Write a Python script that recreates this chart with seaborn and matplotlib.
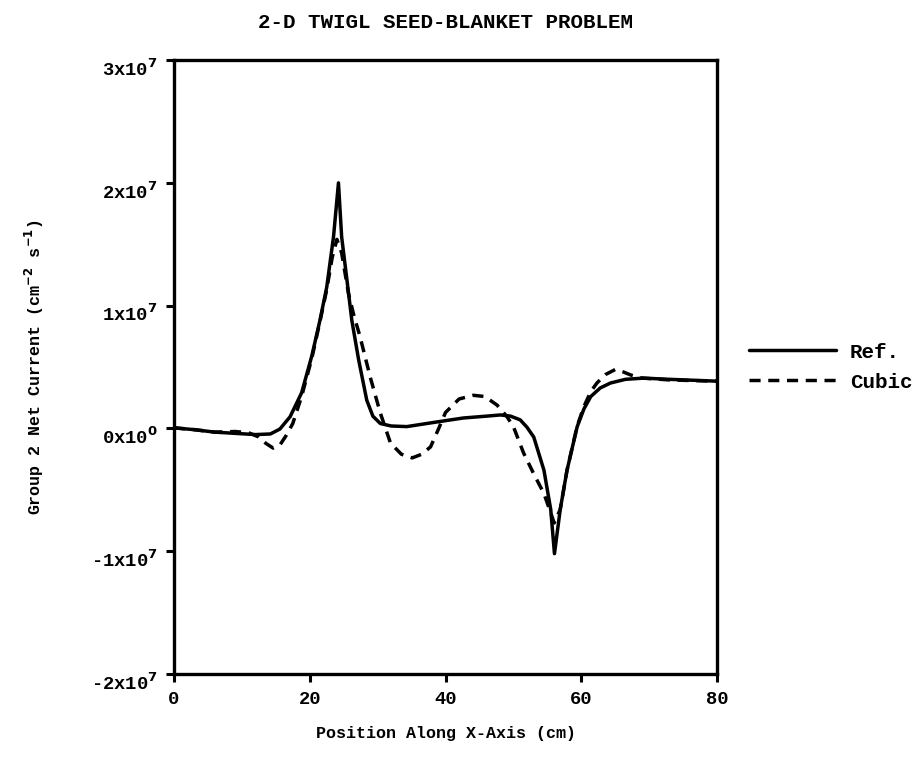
import numpy as np
import pandas as pd
import matplotlib
matplotlib.use("Agg")
import matplotlib.pyplot as plt
import matplotlib.transforms as mtransforms
import seaborn as sns

# Reference solution (x in cm, y in units of 1e6 cm^-2 s^-1)
ref_x = [0, 3, 6, 9, 12, 14.2, 15.6, 17.1, 18.8, 20.3, 21.5, 22.5, 23.5, 24.23, 24.7, 25.5,
         26.2, 27.2, 28.4, 29.3, 30.4, 32.0, 34.3, 37.8, 42.6, 46.0, 48.1, 49.6, 51.0, 52.0,
         53.0, 54.5, 55.5, 56.05, 56.9, 57.9, 59.4, 60.4, 61.4, 62.8, 64.3, 66.5, 69.2, 73.0, 80.0]
ref_y = [0.05, -0.1, -0.3, -0.4, -0.5, -0.45, -0.05, 0.95, 2.9, 5.9, 8.8, 11.5, 15.6, 20.0, 15.6, 12.0,
         8.8, 5.6, 2.3, 1.0, 0.4, 0.2, 0.15, 0.45, 0.85, 1.0, 1.1, 1.0, 0.7, 0.1,
         -0.7, -3.4, -6.6, -10.2, -6.6, -3.4, 0.15, 1.6, 2.6, 3.3, 3.7, 4.0, 4.1, 4.0, 3.85]

# Cubic nodal solution
cub_x = [0, 3, 6, 9, 11, 12.5, 13.5, 14.6, 15.6, 16.5, 17.5, 18.8, 20.3, 21.5, 22.5, 23.3, 24.0,
         24.7, 25.7, 26.5, 27.4, 28.9, 30.4, 31.9, 33.5, 35.1, 36.5, 37.8, 39.0, 40.0, 42.0,
         44.1, 45.8, 47.6, 49.0, 50.0, 51.5, 53.0, 54.5, 55.7, 56.0, 56.9, 57.9, 59.4, 60.4,
         61.4, 62.3, 63.6, 65.0, 66.2, 67.3, 69.0, 73.0, 80.0]
cub_y = [0.05, -0.1, -0.3, -0.25, -0.35, -0.7, -1.2, -1.6, -1.35, -0.6, 0.4, 2.6, 5.7, 8.7, 11.3, 13.9, 15.4,
         14.3, 11.0, 9.2, 7.5, 4.2, 1.25, -1.2, -2.1, -2.4, -2.1, -1.5, 0.0, 1.3, 2.4,
         2.7, 2.6, 1.9, 1.0, 0.15, -2.0, -3.7, -5.3, -7.2, -7.7, -6.6, -3.4, 0.2, 1.8,
         3.0, 3.7, 4.4, 4.8, 4.6, 4.35, 4.1, 3.95, 3.85]

x_ticks = [0, 20, 40, 60, 80]
y_ticks = [-2e7, -1e7, 0, 1e7, 2e7, 3e7]
y_tick_labels = [r"-2x10$^{7}$", r"-1x10$^{7}$", r"0x10$^{0}$", r"1x10$^{7}$", r"2x10$^{7}$", r"3x10$^{7}$"]

df = pd.concat([
    pd.DataFrame({"x": ref_x, "y": np.array(ref_y) * 1e6, "series": "Ref."}),
    pd.DataFrame({"x": cub_x, "y": np.array(cub_y) * 1e6, "series": "Cubic"}),
])

sns.set_style("ticks")
plt.rcParams["font.family"] = ["Liberation Mono", "DejaVu Sans"]
plt.rcParams["font.weight"] = "bold"
plt.rcParams["mathtext.default"] = "bf"
plt.rcParams["text.color"] = "black"
plt.rcParams["axes.labelcolor"] = "black"
plt.rcParams["xtick.color"] = "black"
plt.rcParams["ytick.color"] = "black"

fig = plt.figure(figsize=(9.22, 7.78), dpi=100)
ax = fig.add_axes([0.1887, 0.1337, 0.589, 0.789])

sns.lineplot(data=df[df.series == "Ref."], x="x", y="y", ax=ax, color="black",
             linewidth=2.5, label="Ref.", estimator=None, sort=False)
sns.lineplot(data=df[df.series == "Cubic"], x="x", y="y", ax=ax, color="black",
             linewidth=2.5, label="Cubic", estimator=None, sort=False)
ax.lines[1].set_dashes((3.2, 2.2))
for ln in ax.lines:
    ln.set_solid_joinstyle("round")

ax.set_xlim(0, 80)
ax.set_ylim(-2e7, 3e7)
ax.set_xticks(x_ticks)
ax.set_xticklabels([str(t) for t in x_ticks])
ax.set_yticks(y_ticks)
ax.set_yticklabels(y_tick_labels)
ax.tick_params(direction="out", length=6, width=2.2, labelsize=13.5, pad=6, colors="black")
offset = mtransforms.ScaledTranslation(0, -0.07, fig.dpi_scale_trans)
for lab in ax.get_yticklabels():
    lab.set_transform(lab.get_transform() + offset)
for lab in ax.get_xticklabels() + ax.get_yticklabels():
    lab.set_fontweight("bold")
for sp in ax.spines.values():
    sp.set_linewidth(2.4)
    sp.set_color("black")
    sp.set_visible(True)

ax.set_xlabel("Position Along X-Axis (cm)", fontsize=12, fontweight="bold", labelpad=13)
ax.set_ylabel(r"Group 2 Net Current (cm$^{-2}$ s$^{-1}$)", fontsize=12, fontweight="bold", labelpad=32)
ax.set_title("2-D TWIGL SEED-BLANKET PROBLEM", fontsize=15, fontweight="bold", pad=23)

leg = ax.legend(loc="center left", bbox_to_anchor=(1.058, 0.5), frameon=False,
                fontsize=15, handlelength=4.2, handletextpad=0.67, labelspacing=0.53,
                borderpad=0, borderaxespad=0)
for t in leg.get_texts():
    t.set_fontweight("bold")

fig.savefig("out.png", dpi=100)
